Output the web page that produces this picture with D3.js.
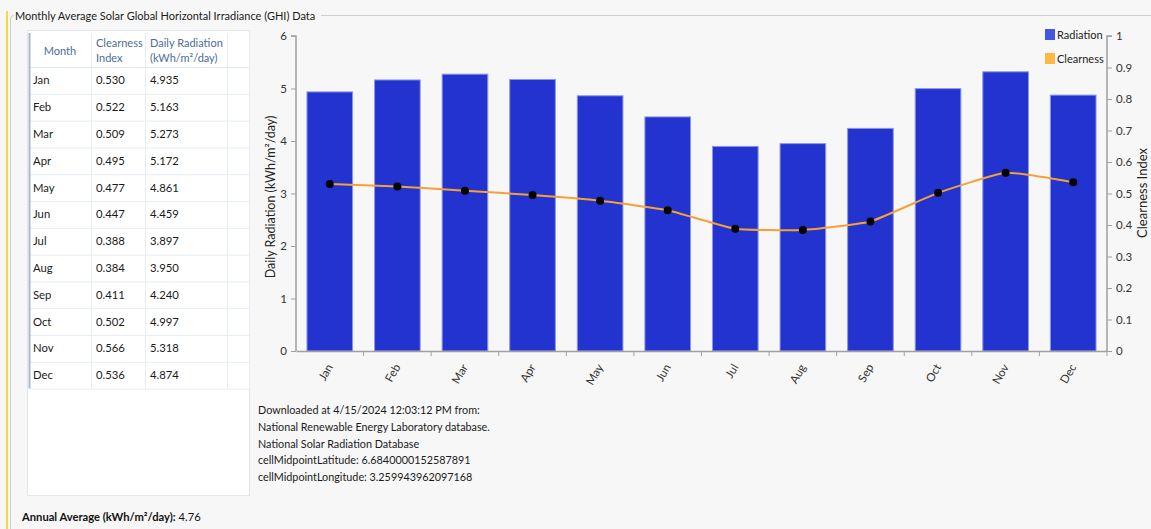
<!DOCTYPE html>
<html>
<head>
<meta charset="utf-8">
<script src="https://cdn.jsdelivr.net/npm/d3@7"></script>
<style>
  html, body { margin: 0; padding: 0; background: #f7f7f7; }
  svg { display: block; font-family: "Lato", "Noto Sans", sans-serif; }
</style>
</head>
<body>
<svg id="chart" width="1151" height="529"></svg>
<script>
const months = ["Jan","Feb","Mar","Apr","May","Jun","Jul","Aug","Sep","Oct","Nov","Dec"];
const clearness = [0.530,0.522,0.509,0.495,0.477,0.447,0.388,0.384,0.411,0.502,0.566,0.536];
const radiation = [4.935,5.163,5.273,5.172,4.861,4.459,3.897,3.950,4.240,4.997,5.318,4.874];
const leftTicks = [0,1,2,3,4,5,6];
const rightTicks = [0,0.1,0.2,0.3,0.4,0.5,0.6,0.7,0.8,0.9,1];
const infoLines = [
  "Downloaded at 4/15/2024 12:03:12 PM from:",
  "National Renewable Energy Laboratory database.",
  "National Solar Radiation Database",
  "cellMidpointLatitude: 6.6840000152587891",
  "cellMidpointLongitude: 3.259943962097168"
];
const annualAverage = "4.76";

const svg = d3.select("#chart");
const FS = 11;

// group box frame
svg.append("rect").attr("x", 0).attr("y", 0).attr("width", 1151).attr("height", 529).attr("fill", "#f7f7f7");
svg.append("line").attr("x1", 7).attr("x2", 7).attr("y1", 11).attr("y2", 529).attr("stroke", "#f5dc3c").attr("stroke-width", 2);
svg.append("path").attr("d", "M10.5,529 V19 Q10.5,15.5 14,15.5")
  .attr("fill", "none").attr("stroke", "#cfcfcf");
svg.append("line").attr("x1", 321).attr("x2", 1151).attr("y1", 15.5).attr("y2", 15.5).attr("stroke", "#cfcfcf");
svg.append("text").attr("x", 15).attr("y", 20).attr("font-size", 11).attr("fill", "#1a1a1a")
  .text("Monthly Average Solar Global Horizontal Irradiance (GHI) Data");

// ---------- table ----------
const tbl = svg.append("g");
tbl.append("rect").attr("x", 27.5).attr("y", 30.5).attr("width", 222).attr("height", 465)
  .attr("fill", "#ffffff").attr("stroke", "#e3e6ea");
const rowTop = 67, rowH = 26.8;
const colX = [30, 91, 145, 227, 249];
const tableBottom = rowTop + rowH * months.length;
colX.slice(1).forEach(x => {
  tbl.append("line").attr("x1", x + 0.5).attr("x2", x + 0.5).attr("y1", 33).attr("y2", tableBottom)
    .attr("stroke", "#e6edf5");
});
tbl.append("line").attr("x1", 30).attr("x2", 249).attr("y1", rowTop + 0.5).attr("y2", rowTop + 0.5).attr("stroke", "#dfe7f0");
months.forEach((m, i) => {
  const y = rowTop + rowH * (i + 1);
  tbl.append("line").attr("x1", 30).attr("x2", 249).attr("y1", y + 0.5).attr("y2", y + 0.5).attr("stroke", "#e6edf5");
});
tbl.append("line").attr("x1", 29.5).attr("x2", 29.5).attr("y1", 33).attr("y2", tableBottom).attr("stroke", "#a9b9cf").attr("stroke-width", 2);

const hdrColor = "#4d6d99";
tbl.append("text").attr("x", 60).attr("y", 55).attr("text-anchor", "middle").attr("font-size", FS).attr("fill", hdrColor).text("Month");
tbl.append("text").attr("x", 96).attr("y", 47).attr("font-size", FS).attr("fill", hdrColor).text("Clearness");
tbl.append("text").attr("x", 96).attr("y", 62).attr("font-size", FS).attr("fill", hdrColor).text("Index");
tbl.append("text").attr("x", 150).attr("y", 47).attr("font-size", FS).attr("fill", hdrColor).text("Daily Radiation");
tbl.append("text").attr("x", 150).attr("y", 62).attr("font-size", FS).attr("fill", hdrColor).text("(kWh/m²/day)");

months.forEach((m, i) => {
  const y = rowTop + rowH * i + rowH / 2 + 4;
  tbl.append("text").attr("x", 33).attr("y", y).attr("font-size", 11.3).attr("fill", "#1a1a1a").text(m);
  tbl.append("text").attr("x", 96).attr("y", y).attr("font-size", 11.3).attr("fill", "#1a1a1a").text(clearness[i].toFixed(3));
  tbl.append("text").attr("x", 150).attr("y", y).attr("font-size", 11.3).attr("fill", "#1a1a1a").text(radiation[i].toFixed(3));
});

const aa = svg.append("text").attr("x", 22).attr("y", 521).attr("font-size", 11.2).attr("fill", "#111");
aa.append("tspan").attr("font-weight", "bold").text("Annual Average (kWh/m²/day):");
aa.append("tspan").text(" " + annualAverage);

// ---------- chart ----------
const plot = { left: 296, right: 1107, top: 36, bottom: 351 };
const x = d3.scaleBand().domain(months).range([plot.left, plot.right]).paddingInner(0.31).paddingOuter(0.155);
const xb = d3.scaleBand().domain(months).range([plot.left, plot.right]);
const yL = d3.scaleLinear().domain([0, 6]).range([plot.bottom, plot.top]);
const yR = d3.scaleLinear().domain([0, 1]).range([plot.bottom, plot.top]);

svg.append("g").selectAll("rect").data(months).join("rect")
  .attr("x", d => x(d) + 0.5)
  .attr("y", (d, i) => yL(radiation[i]))
  .attr("width", x.bandwidth() - 1)
  .attr("height", (d, i) => yL(0) - yL(radiation[i]))
  .attr("fill", "#2233cf")
  .attr("stroke", "#8a96e6")
  .attr("stroke-width", 1);

const axisColor = "#a0a0a0";
const gL = svg.append("g").attr("transform", `translate(${plot.left},0)`)
  .call(d3.axisLeft(yL).tickValues(leftTicks).tickSize(5).tickPadding(4).tickFormat(d3.format("d")));
const gR = svg.append("g").attr("transform", `translate(${plot.right},0)`)
  .call(d3.axisRight(yR).tickValues(rightTicks).tickSize(5).tickPadding(4).tickFormat(d => d === 0 ? "0" : d === 1 ? "1" : d3.format(".1f")(d)));
const gX = svg.append("g").attr("transform", `translate(0,${plot.bottom})`)
  .call(d3.axisBottom(xb).tickSize(0).tickFormat(""));
gX.selectAll(".bt").data(months).join("line").attr("class", "bt")
  .attr("x1", d => xb(d) + xb.bandwidth()).attr("x2", d => xb(d) + xb.bandwidth())
  .attr("y1", 0).attr("y2", 5).attr("stroke", axisColor);

[gL, gR, gX].forEach(g => {
  g.selectAll(".domain").attr("stroke", axisColor).attr("stroke-width", 1.5);
  g.selectAll(".tick line").attr("stroke", axisColor);
  g.selectAll(".tick text").attr("font-size", 11.5).attr("fill", "#333").attr("font-family", "Lato, sans-serif");
});
gL.select(".domain").attr("d", `M-5,${plot.top}H0V${plot.bottom}`);
gR.select(".domain").attr("d", `M5,${plot.top}H0V${plot.bottom}`);

svg.append("g").selectAll("text").data(months).join("text")
  .attr("transform", d => `translate(${xb(d) + xb.bandwidth() / 2},${plot.bottom + 14}) rotate(-60)`)
  .attr("text-anchor", "end").attr("dy", "0.35em")
  .attr("font-size", 11.5).attr("fill", "#333").text(d => d);

svg.append("text").attr("transform", `translate(275,197) rotate(-90)`).attr("text-anchor", "middle")
  .attr("font-size", 12.5).attr("fill", "#222").text("Daily Radiation (kWh/m²/day)");
svg.append("text").attr("transform", `translate(1147,193) rotate(-90)`).attr("text-anchor", "middle")
  .attr("font-size", 13).attr("fill", "#222").text("Clearness Index");

const line = d3.line().x((d, i) => xb(months[i]) + xb.bandwidth() / 2).y(d => yR(d)).curve(d3.curveCardinal.tension(0.6));
svg.append("path").datum(clearness).attr("d", line).attr("fill", "none").attr("stroke", "#f7a035").attr("stroke-width", 2);
svg.append("g").selectAll("circle").data(clearness).join("circle")
  .attr("cx", (d, i) => xb(months[i]) + xb.bandwidth() / 2).attr("cy", d => yR(d)).attr("r", 4).attr("fill", "#000");

const legend = [{ name: "Radiation", color: "#4357e3" }, { name: "Clearness", color: "#ffb845" }];
const lg = svg.append("g").selectAll("g").data(legend).join("g")
  .attr("transform", (d, i) => `translate(1045,${29 + i * 24})`);
lg.append("rect").attr("width", 10).attr("height", 11).attr("fill", d => d.color);
lg.append("text").attr("x", 12).attr("y", 10).attr("font-size", 11).attr("fill", "#222").text(d => d.name);

svg.append("g").selectAll("text").data(infoLines).join("text")
  .attr("x", 258).attr("y", (d, i) => 414 + i * 16.8)
  .attr("font-size", 10.8).attr("fill", "#1a1a1a").text(d => d);
</script>
</body>
</html>
